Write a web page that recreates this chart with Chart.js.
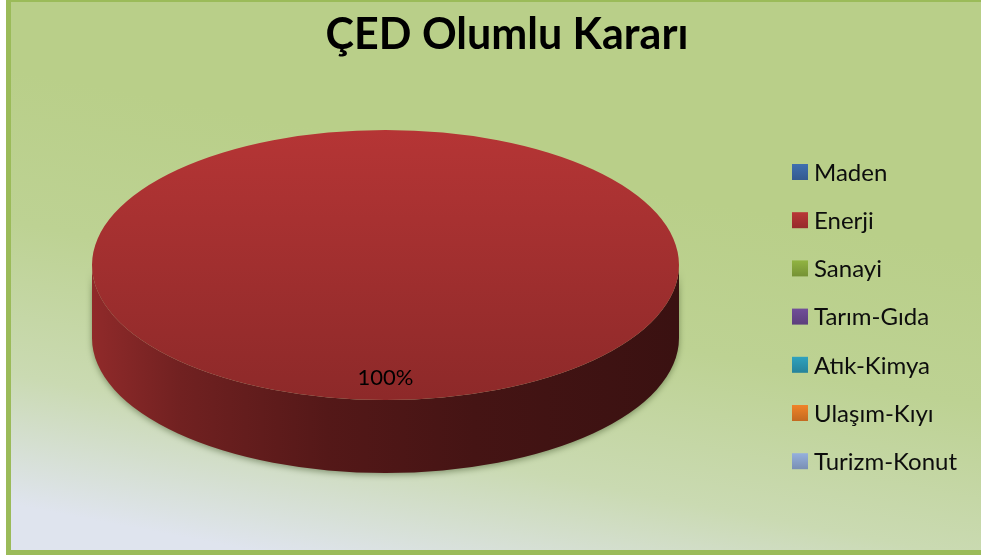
<!DOCTYPE html>
<html><head><meta charset="utf-8">
<script src="https://cdn.jsdelivr.net/npm/chart.js@4"></script>
<style>html,body{margin:0;padding:0;background:#fff;}canvas{display:block;}</style>
</head><body>
<canvas id="c" width="981" height="557"></canvas>
<script>
const chartTitle = 'ÇED Olumlu Kararı';
const categories = ['Maden', 'Enerji', 'Sanayi', 'Tarım-Gıda', 'Atık-Kimya', 'Ulaşım-Kıyı', 'Turizm-Konut'];
const values = [0, 100, 0, 0, 0, 0, 0];
const colors = ['#3c6aa8', '#b03333', '#8aab3e', '#6c4a92', '#2d9ab5', '#e57d26', '#8ea8d2'];

const FONT = 'Lato, "Open Sans", sans-serif';
const DEPTH = 73;

function shade(hex, f) {
  const n = parseInt(hex.slice(1), 16);
  const c = [(n >> 16) & 255, (n >> 8) & 255, n & 255].map(v => Math.max(0, Math.min(255, Math.round(v * f))));
  return 'rgb(' + c.join(',') + ')';
}

const pie3d = {
  id: 'pie3d',
  beforeDraw(chart) {
    const ctx = chart.ctx, W = chart.width, H = chart.height;
    ctx.save();
    ctx.fillStyle = '#fff';
    ctx.fillRect(0, 0, W, H);
    const g = ctx.createLinearGradient(540, 170, 460, 590);
    g.addColorStop(0, '#b9cf89');
    g.addColorStop(0.35, '#bdd293');
    g.addColorStop(0.7, '#cadab2');
    g.addColorStop(1, '#dfe4ee');
    ctx.fillStyle = g;
    ctx.fillRect(8, 0, W, 553);
    ctx.fillStyle = '#9bbb59';
    ctx.fillRect(6, 0, W, 2);
    ctx.fillRect(6, 0, 5, 555);
    ctx.fillRect(6, 550, W, 5);
    ctx.restore();
  },
  beforeDatasetsDraw(chart) {
    const ctx = chart.ctx;
    const meta = chart.getDatasetMeta(0);
    const first = meta.data[0];
    const cx = first.x, cy = first.y, R = first.outerRadius;
    const sx = (chart.chartArea.width / 2) / R;
    ctx.save();
    ctx.translate(cx, cy); ctx.scale(sx, 1); ctx.translate(-cx, -cy);
    meta.data.forEach((arc, i) => {
      const s = arc.startAngle, e = arc.endAngle;
      if (e - s <= 0) return;
      for (let k = -1; k <= 1; k++) {
        const a0 = Math.max(s, 2 * Math.PI * k), a1 = Math.min(e, 2 * Math.PI * k + Math.PI);
        if (a1 <= a0) continue;
        const g = ctx.createLinearGradient(cx - R, 0, cx + R, 0);
        g.addColorStop(0, shade(colors[i], 0.82));
        g.addColorStop(0.15, shade(colors[i], 0.64));
        g.addColorStop(0.4, shade(colors[i], 0.48));
        g.addColorStop(0.65, shade(colors[i], 0.39));
        g.addColorStop(1, shade(colors[i], 0.33));
        ctx.save();
        ctx.shadowColor = 'rgba(40,60,20,0.45)';
        ctx.shadowBlur = 6;
        ctx.shadowOffsetY = 2;
        ctx.beginPath();
        ctx.arc(cx, cy, R, a0, a1);
        ctx.arc(cx, cy + DEPTH, R, a1, a0, true);
        ctx.closePath();
        ctx.fillStyle = g;
        ctx.fill();
        ctx.restore();
      }
    });
  },
  afterDatasetsDraw(chart) {
    const ctx = chart.ctx;
    ctx.restore();
    const meta = chart.getDatasetMeta(0);
    const first = meta.data[0];
    const cx = first.x, cy = first.y, R = first.outerRadius;
    const sx = (chart.chartArea.width / 2) / R;
    const total = values.reduce((a, b) => a + b, 0);
    ctx.save();
    ctx.font = '22px ' + FONT;
    ctx.fillStyle = '#000';
    ctx.textAlign = 'center';
    ctx.textBaseline = 'middle';
    meta.data.forEach((arc, i) => {
      if (!values[i]) return;
      const mid = (arc.startAngle + arc.endAngle) / 2;
      const r = 0.84 * R;
      ctx.fillText(Math.round(values[i] / total * 100) + '%', cx + Math.cos(mid) * r * sx, cy + Math.sin(mid) * r);
    });
    ctx.restore();
  },
  afterDraw(chart) {
    const ctx = chart.ctx;
    ctx.save();
    ctx.fillStyle = '#000';
    ctx.font = 'bold 43px ' + FONT;
    ctx.textAlign = 'center';
    ctx.textBaseline = 'alphabetic';
    ctx.fillText(chartTitle, 507, 49);
    ctx.font = '24px ' + FONT;
    ctx.textAlign = 'left';
    ctx.textBaseline = 'middle';
    categories.forEach((name, i) => {
      const yc = 172 + i * 48.2;
      const g = ctx.createLinearGradient(0, yc - 8, 0, yc + 8);
      g.addColorStop(0, shade(colors[i], 1.05));
      g.addColorStop(1, shade(colors[i], 0.85));
      ctx.fillStyle = g;
      ctx.fillRect(792, yc - 8, 16, 16);
      ctx.fillStyle = '#0d0d0d';
      ctx.fillText(name, 814, yc + 1);
    });
    ctx.restore();
  }
};

new Chart(document.getElementById('c'), {
  type: 'pie',
  data: {
    labels: categories,
    datasets: [{
      data: values,
      backgroundColor: (c) => {
        const col = colors[c.dataIndex];
        const a = c.chart.chartArea;
        if (!a) return col;
        const g = c.chart.ctx.createLinearGradient(0, a.top, 0, a.bottom);
        g.addColorStop(0, shade(col, 1.03));
        g.addColorStop(1, shade(col, 0.8));
        return g;
      },
      borderWidth: 0
    }]
  },
  options: {
    responsive: false,
    animation: false,
    events: [],
    layout: { padding: { left: 92, right: 302, top: 130, bottom: 157 } },
    plugins: { legend: { display: false }, title: { display: false }, tooltip: { enabled: false } }
  },
  plugins: [pie3d]
});
</script>
</body></html>
